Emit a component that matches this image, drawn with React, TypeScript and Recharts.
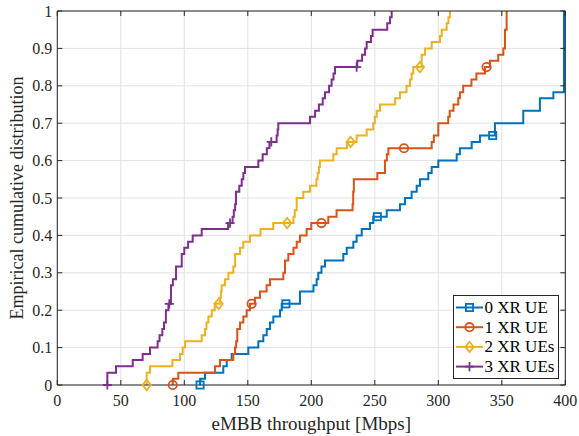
import React from 'react';
import { LineChart, Line, XAxis, YAxis, CartesianGrid, ReferenceLine, Label } from 'recharts';

// throughput [Mbps], empirical CDF level after the step
const ue0Steps: [number, number][] = [
  [112.4, 0], [112.4, 0.017], [116.3, 0.033], [130.7, 0.05], [133.4, 0.067], [137.3, 0.083],
  [150.4, 0.1], [158.3, 0.117], [162.2, 0.133], [164.9, 0.15], [167.5, 0.167], [170.1, 0.183],
  [175.4, 0.2], [176.7, 0.217], [191.1, 0.25], [201.7, 0.267], [204.2, 0.283], [205.5, 0.3],
  [208, 0.317], [210.8, 0.333], [225.2, 0.35], [227.9, 0.367], [233.1, 0.383], [235.7, 0.4],
  [239.7, 0.417], [246.2, 0.433], [248.8, 0.45], [259.4, 0.467], [269.8, 0.483], [273.8, 0.5],
  [279, 0.517], [283, 0.533], [285.6, 0.55], [292.1, 0.567], [294.8, 0.583], [300, 0.6],
  [314.5, 0.617], [317, 0.633], [326.3, 0.65], [332.8, 0.667], [344.6, 0.7], [366.9, 0.733],
  [380, 0.767], [390.6, 0.783], [399, 1],
];

const ue1Steps: [number, number][] = [
  [90.9, 0], [90.9, 0.017], [95.3, 0.033], [124.2, 0.05], [128.1, 0.067], [138.6, 0.083],
  [139.9, 0.1], [140.8, 0.117], [141.7, 0.15], [143.9, 0.167], [146.5, 0.183], [149.1, 0.2],
  [151.7, 0.217], [155.6, 0.233], [159.6, 0.25], [164.8, 0.267], [167.5, 0.283], [178, 0.3],
  [179.3, 0.333], [181.9, 0.35], [186, 0.367], [188.5, 0.383], [191.1, 0.4], [196.3, 0.417],
  [200, 0.433], [213.4, 0.45], [219.9, 0.467], [232.5, 0.483], [233, 0.517], [233.5, 0.55],
  [252, 0.567], [258, 0.6], [259.5, 0.617], [260.7, 0.633], [294.8, 0.65], [296.5, 0.667],
  [300, 0.7], [307.8, 0.717], [309, 0.733], [312, 0.75], [315.7, 0.767], [317, 0.783],
  [319.6, 0.8], [326.1, 0.817], [330, 0.833], [336.8, 0.85], [340.7, 0.867], [347.2, 0.883],
  [351.2, 0.9], [352.5, 0.95], [353.8, 1],
];

const ue2Steps: [number, number][] = [
  [70.4, 0], [70.4, 0.033], [73, 0.05], [90.6, 0.067], [96.6, 0.083], [98.7, 0.1],
  [100.6, 0.117], [113.7, 0.133], [116.3, 0.15], [117.5, 0.167], [119, 0.183], [121.6, 0.2],
  [124, 0.217], [128, 0.233], [128.8, 0.25], [129.4, 0.267], [132, 0.283], [134.7, 0.3],
  [138.6, 0.317], [140, 0.35], [143.9, 0.367], [146.5, 0.383], [151.7, 0.4], [160, 0.417],
  [170, 0.433], [186, 0.45], [187, 0.467], [188.5, 0.5], [193.7, 0.517], [199, 0.533],
  [204, 0.55], [205, 0.567], [206, 0.583], [206.8, 0.6], [217.3, 0.617], [220, 0.633],
  [228, 0.65], [235.7, 0.667], [243.6, 0.683], [248.8, 0.7], [250, 0.717], [251.5, 0.733],
  [254.1, 0.75], [266, 0.767], [269.8, 0.783], [275, 0.8], [277.7, 0.817], [279, 0.833],
  [280.3, 0.85], [286.9, 0.883], [289.5, 0.9], [294.8, 0.917], [301.3, 0.933], [302.7, 0.95],
  [306.6, 0.967], [308, 0.983], [309.2, 1],
];

const ue3Steps: [number, number][] = [
  [39.4, 0], [39.4, 0.033], [46.2, 0.05], [59.4, 0.067], [67.2, 0.083], [73, 0.1],
  [79, 0.117], [80.5, 0.133], [82.7, 0.15], [84, 0.167], [85.5, 0.2], [87.5, 0.217],
  [89.5, 0.267], [91, 0.283], [93.5, 0.317], [98, 0.35], [100, 0.367], [103, 0.383],
  [106.6, 0.4], [113.7, 0.417], [134.5, 0.433], [138, 0.45], [139, 0.467], [140, 0.483],
  [140.7, 0.517], [143.3, 0.533], [145.2, 0.55], [146.5, 0.567], [147.8, 0.583], [158.3, 0.6],
  [161.7, 0.617], [165, 0.633], [167, 0.65], [172.7, 0.667], [173.5, 0.683], [174, 0.7],
  [199, 0.717], [203, 0.733], [206, 0.75], [209, 0.767], [210.8, 0.783], [214, 0.8],
  [216, 0.817], [217.5, 0.833], [218.7, 0.85], [236.2, 0.867], [240, 0.883], [242.3, 0.9],
  [243.6, 0.917], [247, 0.933], [248.3, 0.95], [259.8, 0.967], [262, 0.983], [263.3, 1],
];

// where the markers sit on each curve
const ue0Marks: [number, number][] = [[112.4, 0], [180, 0.217], [252, 0.45], [342.8, 0.667]];
const ue1Marks: [number, number][] = [[90.9, 0], [153, 0.217], [208, 0.433], [273, 0.633], [338, 0.85]];
const ue2Marks: [number, number][] = [[70.4, 0], [127, 0.217], [181, 0.433], [231, 0.65], [285.5, 0.85]];
const ue3Marks: [number, number][] = [[39.4, 0], [88.2, 0.217], [136, 0.433], [168.5, 0.65], [235.7, 0.85]];

const seriesNames = ['0 XR UE', '1 XR UE', '2 XR UEs', '3 XR UEs'];
const seriesColors = ['#0072BD', '#D95319', '#EDB120', '#7E2F8E'];
const seriesMarkers = ['square', 'circle', 'diamond', 'plus'];

const xTicks = [0, 50, 100, 150, 200, 250, 300, 350, 400];
const yTicks = [0, 0.1, 0.2, 0.3, 0.4, 0.5, 0.6, 0.7, 0.8, 0.9, 1];

const FONT = "'Liberation Serif', 'DejaVu Serif', serif";
const AXIS_COLOR = '#262626';

const W = 579;
const H = 436;
const margin = { top: 11, right: 13.7, bottom: 0, left: 0 };
const yAxisW = 57.3;
const xAxisH = 51;
const plotW = W - margin.left - margin.right - yAxisW;
const plotH = H - margin.top - margin.bottom - xAxisH;
// MATLAB style inward ticks, ~5px long
const tickLenX = (5 * 400) / plotW;
const tickLenY = 5 / plotH;

const buildSeries = (steps: [number, number][], marks: [number, number][]) => {
  const pts = steps.map(([x, y]) => ({ x, y, m: false }));
  marks.forEach(([mx, my]) => {
    const hit = pts.find((p) => p.x === mx && p.y === my);
    if (hit) hit.m = true;
    else pts.push({ x: mx, y: my, m: true });
  });
  return pts.sort((a, b) => a.x - b.x || a.y - b.y);
};

const series = [
  buildSeries(ue0Steps, ue0Marks),
  buildSeries(ue1Steps, ue1Marks),
  buildSeries(ue2Steps, ue2Marks),
  buildSeries(ue3Steps, ue3Marks),
];

const marker = (kind: string, cx: number, cy: number, color: string, key?: any) => {
  const common = { fill: 'none', stroke: color, strokeWidth: 1.8 };
  switch (kind) {
    case 'square':
      return <rect key={key} x={cx - 3.6} y={cy - 3.6} width={7.2} height={7.2} {...common} />;
    case 'circle':
      return <circle key={key} cx={cx} cy={cy} r={4.2} {...common} />;
    case 'diamond':
      return <path key={key} d={`M${cx},${cy - 5.2}L${cx + 4.2},${cy}L${cx},${cy + 5.2}L${cx - 4.2},${cy}Z`} {...common} />;
    default:
      return <path key={key} d={`M${cx - 4.6},${cy}H${cx + 4.6}M${cx},${cy - 4.6}V${cy + 4.6}`} {...common} />;
  }
};

const fmtY = (v: number) => (v === 0 ? '0' : v === 1 ? '1' : v.toFixed(1));

const textStyle = (size: number) => ({ fontFamily: FONT, fontSize: size });

const XTick = ({ x, y, payload }: any) => (
  <text x={x} y={y} dy={21} textAnchor="middle" style={textStyle(16)} fill={AXIS_COLOR}>
    {payload.value}
  </text>
);

const YTick = ({ x, y, payload }: any) => (
  <text x={x} y={y} dy={5.5} textAnchor="end" style={textStyle(16)} fill={AXIS_COLOR}>
    {fmtY(payload.value)}
  </text>
);

const Legendbox = () => (
  <svg
    width={106}
    height={84}
    style={{ position: 'absolute', left: 453, top: 295, background: '#fff' }}
  >
    <rect x={0.5} y={0.5} width={105} height={83} fill="#fff" stroke="#262626" strokeWidth={1} />
    {seriesNames.map((name, i) => {
      const cy = 12.5 + i * 19.7;
      return (
        <g key={name}>
          <line x1={3} x2={30} y1={cy} y2={cy} stroke={seriesColors[i]} strokeWidth={2} />
          {marker(seriesMarkers[i], 16.5, cy, seriesColors[i])}
          <text x={31.5} y={cy + 5.5} style={textStyle(17)} fill="#000">
            {name}
          </text>
        </g>
      );
    })}
  </svg>
);

export default function App() {
  return (
    <div style={{ position: 'absolute', left: 0, top: 0, width: W, height: H, background: '#fff', fontFamily: FONT }}>
      <LineChart width={W} height={H} margin={margin} style={{ fontFamily: FONT }}>
        <CartesianGrid stroke="#e2e2e2" strokeWidth={1} />
        <XAxis
          type="number"
          dataKey="x"
          domain={[0, 400]}
          ticks={xTicks}
          allowDataOverflow
          height={xAxisH}
          tickSize={0}
          tickMargin={0}
          tickLine={false}
          axisLine={{ stroke: AXIS_COLOR, strokeWidth: 1 }}
          tick={<XTick />}
        >
          <Label
            content={({ viewBox }: any) => (
              <text
                x={viewBox.x + viewBox.width / 2}
                y={viewBox.y + 45}
                textAnchor="middle"
                style={textStyle(19)}
                fill={AXIS_COLOR}
              >
                eMBB throughput [Mbps]
              </text>
            )}
          />
        </XAxis>
        <YAxis
          type="number"
          domain={[0, 1]}
          ticks={yTicks}
          width={yAxisW}
          tickSize={0}
          tickMargin={5}
          tickLine={false}
          axisLine={{ stroke: AXIS_COLOR, strokeWidth: 1 }}
          tick={<YTick />}
        >
          <Label
            content={({ viewBox }: any) => {
              const cx = 23;
              const cy = viewBox.y + viewBox.height / 2;
              return (
                <text
                  x={cx}
                  y={cy}
                  transform={`rotate(-90 ${cx} ${cy})`}
                  textAnchor="middle"
                  style={textStyle(18)}
                  fill={AXIS_COLOR}
                >
                  Empirical cumulative distribution
                </text>
              );
            }}
          />
        </YAxis>

        {series.map((data, i) => (
          <Line
            key={seriesNames[i]}
            name={seriesNames[i]}
            data={data}
            dataKey="y"
            type="stepAfter"
            stroke={seriesColors[i]}
            strokeWidth={2}
            isAnimationActive={false}
            activeDot={false}
            dot={(p: any) =>
              p.payload && p.payload.m ? (
                marker(seriesMarkers[i], p.cx, p.cy, seriesColors[i], `m-${i}-${p.index}`)
              ) : (
                <g key={`n-${i}-${p.index}`} />
              )
            }
          />
        ))}

        {/* box top / right */}
        <ReferenceLine y={1} stroke={AXIS_COLOR} strokeWidth={1} />
        <ReferenceLine x={400} stroke={AXIS_COLOR} strokeWidth={1} />

        {/* inward ticks on all four sides */}
        {xTicks.map((t) => (
          <ReferenceLine key={`xb-${t}`} segment={[{ x: t, y: 0 }, { x: t, y: tickLenY }]} stroke={AXIS_COLOR} />
        ))}
        {xTicks.map((t) => (
          <ReferenceLine key={`xt-${t}`} segment={[{ x: t, y: 1 }, { x: t, y: 1 - tickLenY }]} stroke={AXIS_COLOR} />
        ))}
        {yTicks.map((t) => (
          <ReferenceLine key={`yl-${t}`} segment={[{ x: 0, y: t }, { x: tickLenX, y: t }]} stroke={AXIS_COLOR} />
        ))}
        {yTicks.map((t) => (
          <ReferenceLine key={`yr-${t}`} segment={[{ x: 400, y: t }, { x: 400 - tickLenX, y: t }]} stroke={AXIS_COLOR} />
        ))}
      </LineChart>
      <Legendbox />
    </div>
  );
}
